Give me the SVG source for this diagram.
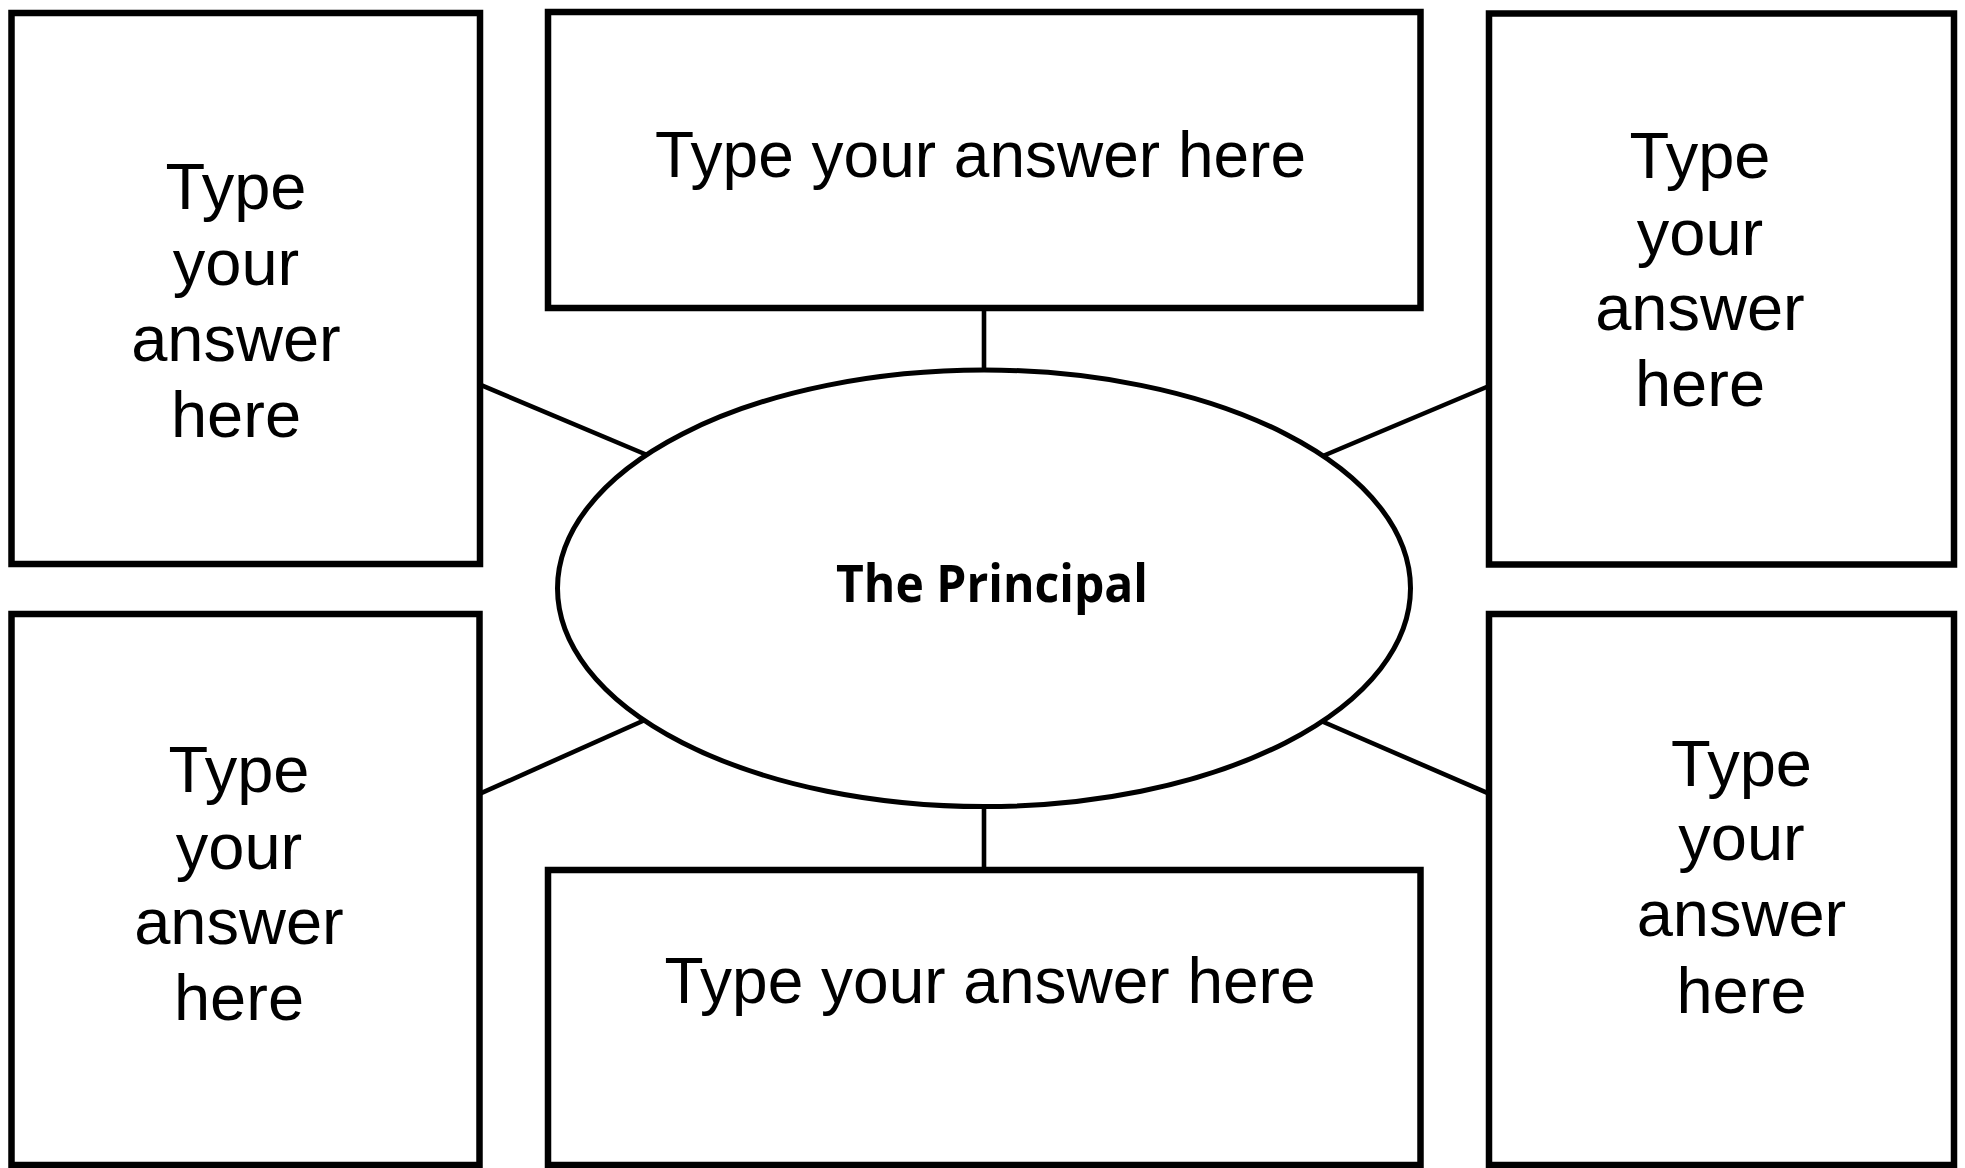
<svg xmlns="http://www.w3.org/2000/svg" width="1965" height="1168" viewBox="0 0 1965 1168">
<style>
.box{fill:#fff;stroke:#000;stroke-width:6.5}
.ell{fill:#fff;stroke:#000;stroke-width:5}
.con{stroke:#000;stroke-width:4.6;fill:none}
.lbl{font-family:"Liberation Sans",Arial,sans-serif;font-size:65px;fill:#000;text-anchor:middle}
.wide{font-size:64px}
.main{font-family:"Open Sans","Noto Sans",sans-serif;font-weight:bold;font-size:52px;fill:#000;text-anchor:middle}
</style>
<rect width="1965" height="1168" fill="#fff"/>
<g id="connectors">
<line class="con" x1="480" y1="384.6" x2="665" y2="462.5"/>
<line class="con" x1="1489" y1="386" x2="1305" y2="463.5"/>
<line class="con" x1="480" y1="793.7" x2="665" y2="711"/>
<line class="con" x1="1489" y1="793.7" x2="1305" y2="714"/>
<line class="con" x1="984" y1="308" x2="984" y2="385"/>
<line class="con" x1="984" y1="795" x2="984" y2="870"/>
</g>
<g id="node-top-left">
<rect class="box" x="11.5" y="13" width="468.5" height="551"/>
<text class="lbl" x="236" y="209"><tspan x="236">Type</tspan><tspan x="236" dy="76">your</tspan><tspan x="236" dy="75.5">answer</tspan><tspan x="236" dy="76">here</tspan></text>
</g>
<g id="node-top-middle">
<rect class="box" x="548" y="12" width="872.5" height="296"/>
<text class="lbl wide" x="980.5" y="177">Type your answer here</text>
</g>
<g id="node-top-right">
<rect class="box" x="1489" y="13.5" width="465" height="551"/>
<text class="lbl" x="1700" y="178"><tspan x="1700">Type</tspan><tspan x="1700" dy="76.5">your</tspan><tspan x="1700" dy="75">answer</tspan><tspan x="1700" dy="76.5">here</tspan></text>
</g>
<g id="node-bottom-left">
<rect class="box" x="11.5" y="614" width="468" height="551"/>
<text class="lbl" x="239" y="792"><tspan x="239">Type</tspan><tspan x="239" dy="76.5">your</tspan><tspan x="239" dy="75">answer</tspan><tspan x="239" dy="76">here</tspan></text>
</g>
<g id="node-bottom-middle">
<rect class="box" x="548" y="870" width="872.5" height="295"/>
<text class="lbl wide" x="990" y="1003">Type your answer here</text>
</g>
<g id="node-bottom-right">
<rect class="box" x="1489" y="614" width="465" height="551"/>
<text class="lbl" x="1741.5" y="785.5"><tspan x="1741.5">Type</tspan><tspan x="1741.5" dy="74.5">your</tspan><tspan x="1741.5" dy="76">answer</tspan><tspan x="1741.5" dy="77">here</tspan></text>
</g>
<g id="node-center">
<ellipse class="ell" cx="984" cy="588.3" rx="426.5" ry="218.3"/>
<text class="main" x="992" y="602" textLength="312" lengthAdjust="spacingAndGlyphs">The Principal</text>
</g>
</svg>
